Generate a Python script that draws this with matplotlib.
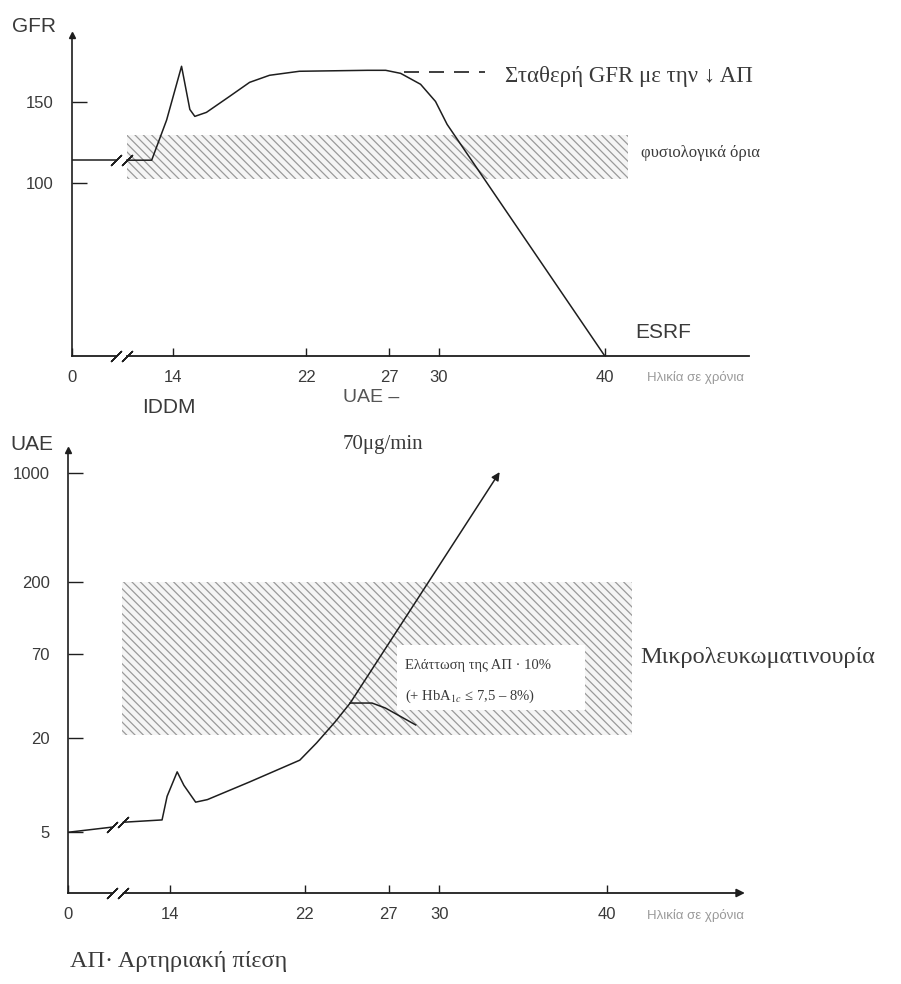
import numpy as np
import matplotlib
matplotlib.use("Agg")
import matplotlib.pyplot as plt
from matplotlib.ticker import NullLocator

plt.rcParams["hatch.linewidth"] = 0.9
plt.rcParams["mathtext.fontset"] = "stix"

W, H = 901, 984

# ages before the axis break are squeezed into a short stub
brk_age = [-20, 0, 11, 100]
brk_pos = [2.26, 7.9, 11, 100]


def fwd(a):
    return np.interp(a, brk_age, brk_pos)


def inv(p):
    return np.interp(p, brk_pos, brk_age)


def px(x, y):
    return x / W, 1 - y / H


# --- data ---
ticks_age = [0, 14, 22, 27, 30, 40]
axis_break = [9.4, 11.2]

gfr_ticks = [100, 150]
gfr_pre_age = [0, 9.4]
gfr_pre = [114, 114]
gfr_age = [11.2, 12.7, 13.6, 14.5, 15.0, 15.3, 16.0, 17.4, 18.6, 19.8, 21.6,
           25.7, 26.8, 27.7, 28.9, 29.8, 30.5, 40]
gfr = [114, 114, 139, 172.5, 145.6, 141.3, 143.8, 153.8, 162.5, 166.9, 169.4,
       170, 170, 168.1, 161.3, 150.6, 136.3, -8]
gfr_stable_age = [27.9, 32.8]
gfr_stable = [169, 169]
gfr_band_age = [11.2, 41.4]
gfr_band = [102, 130]

uae_ticks = [5, 20, 70, 200, 1000]
uae_pre_age = [0, 9.4]
uae_pre = [5.0, 5.4]
uae_age = [11.2, 13.5, 13.8, 14.4, 14.8, 15.5, 16.2, 18.7, 21.7, 22.7, 23.8,
           24.7, 33.6]
uae = [5.8, 6.0, 8.5, 12.2, 10.0, 7.8, 8.1, 10.5, 14.5, 18.7, 25.5, 33.7, 1020]
treat_age = [24.7, 26.0, 26.8, 28.6]
treat = [33.7, 33.7, 31.3, 24.4]
uae_band_age = [11.1, 41.5]
uae_band = [21, 200]
note_age = [27.5, 38.7]
note_box = [30.4, 79.5]

ink = "#1e1e1e"
grey = "#3a3a3a"
serif = ["Liberation Serif", "DejaVu Serif"]
sans = ["Liberation Sans", "DejaVu Sans"]
hatch_kw = dict(facecolor="#f5f5f5", edgecolor="#9a9a9a", hatch="\\\\\\\\",
                linewidth=0, zorder=1)

fig = plt.figure(figsize=(W / 100, H / 100), dpi=100)

# ---------- top panel: GFR ----------
ax1 = fig.add_axes([72 / W, 1 - 356 / H, 688 / W, 321 / H])
ax1.set_xscale("function", functions=(fwd, inv))
ax1.set_xlim(0, 49.35)
ax1.set_ylim(-8, 192)

ax1.fill_between(gfr_band_age, gfr_band[0], gfr_band[1], **hatch_kw)
ax1.plot(gfr_pre_age, gfr_pre, color=ink, lw=1.1, zorder=3)
ax1.plot(gfr_age, gfr, color=ink, lw=1.1, zorder=3)
ax1.plot(gfr_stable_age, gfr_stable, color=ink, lw=1.2, ls=(0, (9, 6)), zorder=3)
ax1.plot(axis_break, [gfr_pre[-1], gfr[0]], ls="none", marker=(2, 2, -45),
         ms=11, mew=1, color=ink, zorder=4)

y0 = ax1.get_ylim()[0]
ax1.plot([0, axis_break[0]], [y0, y0], color=ink, lw=1.3, clip_on=False)
ax1.plot([axis_break[1], 48.7], [y0, y0], color=ink, lw=1.3, clip_on=False)
ax1.plot(axis_break, [y0, y0], ls="none", marker=(2, 2, -45), ms=11, mew=1,
         color=ink, clip_on=False)

ax1.text(34.0, 166, "Σταθερή GFR με την ↓ ΑΠ", fontsize=16.5, family=serif,
         color=grey, va="center")
ax1.text(42.2, 118.5, "φυσιολογικά όρια", fontsize=12, family=serif,
         color=grey, va="center")
ax1.text(43.5, 1, "ESRF", fontsize=15, family=sans, color=grey,
         ha="center", va="bottom")

ax1.set_xticks(ticks_age, [str(t) for t in ticks_age])
ax1.set_yticks(gfr_ticks, [str(t) for t in gfr_ticks])

# ---------- bottom panel: UAE ----------
ax2 = fig.add_axes([68 / W, 1 - 893 / H, 692 / W, 443 / H])
ax2.set_xscale("function", functions=(fwd, inv))
ax2.set_yscale("log")
ax2.set_xlim(0, 49.1)
ax2.set_ylim(2.04, 1413)

ax2.fill_between(uae_band_age, uae_band[0], uae_band[1], **hatch_kw)
ax2.fill_between(note_age, note_box[0], note_box[1], facecolor="white",
                 linewidth=0, zorder=2)
ax2.plot(uae_pre_age, uae_pre, color=ink, lw=1.1, zorder=3)
ax2.plot(uae_age[:-1], uae[:-1], color=ink, lw=1.1, zorder=3)
ax2.annotate("", xy=(uae_age[-1], uae[-1]), xytext=(uae_age[-2], uae[-2]),
             arrowprops=dict(arrowstyle="-|>", color=ink, lw=1.1,
                             mutation_scale=12, shrinkA=0, shrinkB=0), zorder=3)
ax2.plot(treat_age, treat, color=ink, lw=1.1, zorder=3)
ax2.plot(axis_break, [uae_pre[-1], uae[0]], ls="none", marker=(2, 2, -45),
         ms=11, mew=1, color=ink, zorder=4)

y0 = ax2.get_ylim()[0]
ax2.plot([0, axis_break[0]], [y0, y0], color=ink, lw=1.3, clip_on=False)
ax2.annotate("", xy=(48.2, y0), xytext=(axis_break[1], y0),
             arrowprops=dict(arrowstyle="-|>", color=ink, lw=1.3,
                             mutation_scale=12, shrinkA=0, shrinkB=0),
             annotation_clip=False)
ax2.plot(axis_break, [y0, y0], ls="none", marker=(2, 2, -45), ms=11, mew=1,
         color=ink, clip_on=False)

ax2.set_xticks(ticks_age, [str(t) for t in ticks_age])
ax2.set_yticks(uae_ticks, [str(t) for t in uae_ticks])
ax2.yaxis.set_minor_locator(NullLocator())

for ax in (ax1, ax2):
    for s in ("top", "right", "bottom"):
        ax.spines[s].set_visible(False)
    ax.spines["left"].set_linewidth(1.2)
    ax.spines["left"].set_color(ink)
    ax.plot(0, 1, marker="^", ms=5, color=ink, transform=ax.transAxes,
            clip_on=False)
    ax.tick_params(axis="x", direction="in", length=6, width=1, pad=10,
                   labelsize=12, colors=ink, labelcolor=grey)
    ax.tick_params(axis="y", direction="in", length=11, width=1, pad=13,
                   labelsize=12, colors=ink, labelcolor=grey)
    ax.set_facecolor("none")
    for lab in ax.get_xticklabels() + ax.get_yticklabels():
        lab.set_family(sans)

# ---------- free text ----------
fig.text(*px(12, 27), "GFR", fontsize=15, family=sans, color=grey, va="center")
fig.text(*px(10, 445), "UAE", fontsize=15, family=sans, color=grey, va="center")
fig.text(*px(142, 408), "IDDM", fontsize=15, family=sans, color=grey,
         va="center")
fig.text(*px(343, 397), "UAE –", fontsize=14, family=sans, color="#555555",
         va="center")
fig.text(*px(343, 445), "70μg/min", fontsize=15, family=serif, color=grey,
         va="center")
fig.text(*px(647, 378), "Ηλικία σε χρόνια", fontsize=9.5, family=sans,
         color="#9a9a9a", va="center")
fig.text(*px(647, 916), "Ηλικία σε χρόνια", fontsize=9.5, family=sans,
         color="#9a9a9a", va="center")
fig.text(*px(640, 657), "Μικρολευκωματινουρία", fontsize=17.5, family=serif,
         color=grey, va="center")
fig.text(*px(405, 665), "Ελάττωση της ΑΠ · 10%", fontsize=10.5, family=serif,
         color=grey, va="center")
fig.text(*px(405, 696), "(+ HbA$_{1c}$ ≤ 7,5 – 8%)", fontsize=10.5,
         family=serif, color=grey, va="center")
fig.text(*px(70, 962), "ΑΠ· Αρτηριακή πίεση", fontsize=17.5, family=serif,
         color=grey, va="center")

fig.savefig("out.png", dpi=100)
